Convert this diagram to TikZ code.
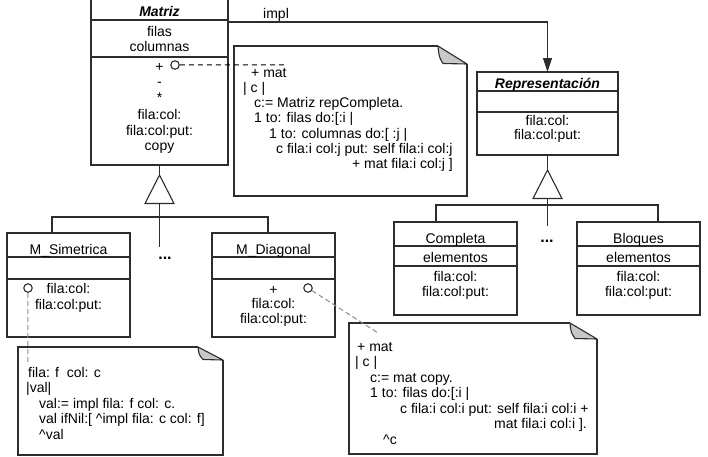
\documentclass[tikz,border=0pt]{standalone}
\usepackage{fontspec}
\setmainfont{Liberation Sans}
\usetikzlibrary{arrows.meta}
\usetikzlibrary{calc}
\definecolor{foldgray}{RGB}{200,200,200}
\definecolor{umlline}{RGB}{45,45,45}
\tikzset{
	classframe/.style={draw=umlline, line width=1.1pt, inner sep=0pt, outer sep=0pt},
	umlrule/.style={draw=umlline, line width=1.1pt},
	classname/.style={anchor=base, inner sep=0pt, font=\fontsize{14}{15.4}\selectfont\bfseries\itshape},
	member/.style={anchor=base, inner sep=0pt},
	codetext/.style={anchor=base west, inner sep=0pt},
	codeend/.style={anchor=base east, inner sep=0pt},
	opmark/.style={circle, draw=umlline, line width=1.1pt, fill=white, minimum size=8.5pt, inner sep=0pt},
	linkblack/.style={draw=black, line width=1pt, dash pattern=on 5pt off 4pt},
	linkgray/.style={draw=black!45, line width=1pt, dash pattern=on 5pt off 3pt},
	assoc/.style={draw=umlline, line width=1.1pt, -{Triangle[length=14pt, width=9pt]}},
	dots/.style={anchor=base, inner sep=0pt, font=\fontsize{16}{16}\selectfont\bfseries}
}
\newcommand{\classbox}[7] % name, left, top, right, bottom, rule 1, rule 2 (px)
{
	% frame
	\node[classframe, minimum width={(#4)-(#2)}, minimum height={(#5)-(#3)}] (#1) at ({((#2)+(#4))/2},{((#3)+(#5))/2}) {};
	% compartments
	\draw[umlrule] (#2,#6) -- (#4,#6);
	\draw[umlrule] (#2,#7) -- (#4,#7);
}
\newcommand{\notebox}[7] % name, left, top, right, bottom, fold width, fold height
{
	% sheet
	\draw[umlrule] ({#4-#6},#3) -- (#2,#3) -- (#2,#5) -- (#4,#5) -- (#4,{#3+#7});
	% turned corner
	\draw[umlrule, fill=foldgray, line join=round] ({#4-#6},#3) .. controls ({#4-#6+1},{#3+#7*0.6}) .. ({#4-#6+5},{#3+#7-0.5}) -- (#4,{#3+#7}) -- cycle;
	\node[inner sep=0pt, minimum width={(#4)-(#2)}, minimum height={(#5)-(#3)}] (#1) at ({((#2)+(#4))/2},{((#3)+(#5))/2}) {};
}
\newcommand{\inherit}[3] % name, apex x, apex y
{
	\draw[umlrule, fill=white] (#2,#3) -- ({#2+14.5},{#3+28.5}) -- ({#2-14.5},{#3+28.5}) -- cycle;
	\coordinate (#1-apex) at (#2,#3);
	\coordinate (#1) at (#2,{#3+28.5});
}

\begin{document}
\begin{tikzpicture}[x=1pt, y=-1pt, every node/.style={font=\fontsize{14}{15.4}\selectfont}]
	\useasboundingbox (0,0) rectangle (708,456);
	% classes
	\classbox{matriz}{91}{-2}{228}{165}{20}{57}
	\classbox{rep}{477}{72}{618}{155}{91}{112}
	\classbox{simetrica}{7}{233}{130}{337}{257}{279}
	\classbox{diagonal}{212}{233}{335}{337}{257}{279}
	\classbox{completa}{394}{222}{517}{315}{246}{266}
	\classbox{bloques}{577}{222}{700}{315}{246}{266}
	
	\node[classname] (matriz-name) at (159.5,16) {Matriz};
	\foreach \y/\t [count=\i] in {36/filas, 51.5/columnas}
		\node[member] (matriz-att-\i) at (159.5,\y) {\t};
	\foreach \y/\t [count=\i] in {71/+, 86/-, 102/*, 119/fila:col:, 135/fila:col:put:, 150/copy}
		\node[member] (matriz-op-\i) at (159.5,\y) {\t};
	
	\node[classname] (rep-name) at (547.5,88) {Representación};
	\foreach \y/\t [count=\i] in {125/fila:col:, 139.5/fila:col:put:}
		\node[member] (rep-op-\i) at (547.5,\y) {\t};
	
	\node[member] (simetrica-name) at (68.5,254) {M\_Simetrica};
	\foreach \y/\t [count=\i] in {293/fila:col:, 309/fila:col:put:}
		\node[member] (simetrica-op-\i) at (68.5,\y) {\t};
	
	\node[member] (diagonal-name) at (273.5,254) {M\_Diagonal};
	\foreach \y/\t [count=\i] in {294/+, 308/fila:col:, 323/fila:col:put:}
		\node[member] (diagonal-op-\i) at (273.5,\y) {\t};
	
	\node[member] (completa-name) at (455.5,243) {Completa};
	\foreach \y/\t [count=\i] in {262/elementos, 281/fila:col:, 296/fila:col:put:}
		\node[member] (completa-row-\i) at (455.5,\y) {\t};
	
	\node[member] (bloques-name) at (638.5,243) {Bloques};
	\foreach \y/\t [count=\i] in {262/elementos, 281/fila:col:, 296/fila:col:put:}
		\node[member] (bloques-row-\i) at (638.5,\y) {\t};
	
	% association
	\draw[assoc] (matriz.east |- 0,22) -| (rep.north);
	\node[codetext] (impl) at (263,18.5) {impl};
	
	% generalizations
	\inherit{gen-m}{159.5}{175}
	\draw[umlrule] (matriz.south) -- (gen-m-apex);
	\draw[umlrule] (gen-m) -- ++(0,43);
	\draw[umlrule] (simetrica.north -| 52,0) |- (gen-m |- 0,217) -| (diagonal.north -| 268,0);
	\node[dots] (more-m) at (165,259) {...};
	
	\inherit{gen-r}{547.5}{170}
	\draw[umlrule] (rep.south) -- (gen-r-apex);
	\draw[umlrule] (gen-r) -- ++(0,27.5);
	\draw[umlrule] (completa.north -| 436,0) |- (gen-r |- 0,205) -| (bloques.north -| 658,0);
	\node[dots] (more-r) at (547,242) {...};
	
	% notes
	\notebox{note-add}{234}{46}{467}{196}{29}{18}
	\notebox{note-at}{18}{347}{223}{455}{25}{13}
	\notebox{note-diag}{349}{323}{597}{454}{27}{16}
	
	\foreach \x/\y/\t [count=\i] in {251/77/{+ mat}, 243/92.3/{| c |}, 254/107.6/{c:= Matriz repCompleta.}, 254/122.9/{1 to: filas do:[:i |}, 269/138.2/{1 to: columnas do:[ :j |}, 276/153.5/{c fila:i col:j put: self fila:i col:j}}
		\node[codetext] (add-line-\i) at (\x,\y) {\t};
	\node[codeend] (add-line-7) at (453,168.8) {+ mat fila:i col:j ]};
	
	\foreach \x/\y/\t [count=\i] in {28/377/{fila: f~ col: c}, 26/392.5/{|val|}, 39/408/{val:= impl fila: f col: c.}, 39/423.5/{val ifNil:[ \textasciicircum impl fila: c col: f]}, 39/439/{\textasciicircum val}}
		\node[codetext] (at-line-\i) at (\x,\y) {\t};
	
	\foreach \x/\y/\t [count=\i] in {357/351/{+ mat}, 355/366.5/{| c |}, 370/382/{c:= mat copy.}, 370/397.5/{1 to: filas do:[:i |}, 400/413/{c fila:i col:i put: self fila:i col:i +}, 383/444/{\textasciicircum c}}
		\node[codetext] (diag-line-\i) at (\x,\y) {\t};
	\node[codeend] (diag-line-7) at (587,428.5) {mat fila:i col:i ].};
	
	% operation marks and their notes
	\node[opmark] (mark-add) at (175,65) {};
	\node[opmark] (mark-at) at (28,288) {};
	\node[opmark] (mark-diag) at (308,288) {};
	\draw[linkblack] (mark-add) -- ($(note-add.north west)+(51,19)$);
	\draw[linkgray] (mark-at) -- ($(note-at.north west)+(10,16)$);
	\draw[linkgray] (mark-diag) -- ($(note-diag.north west)+(29,10)$);
\end{tikzpicture}
\end{document}
